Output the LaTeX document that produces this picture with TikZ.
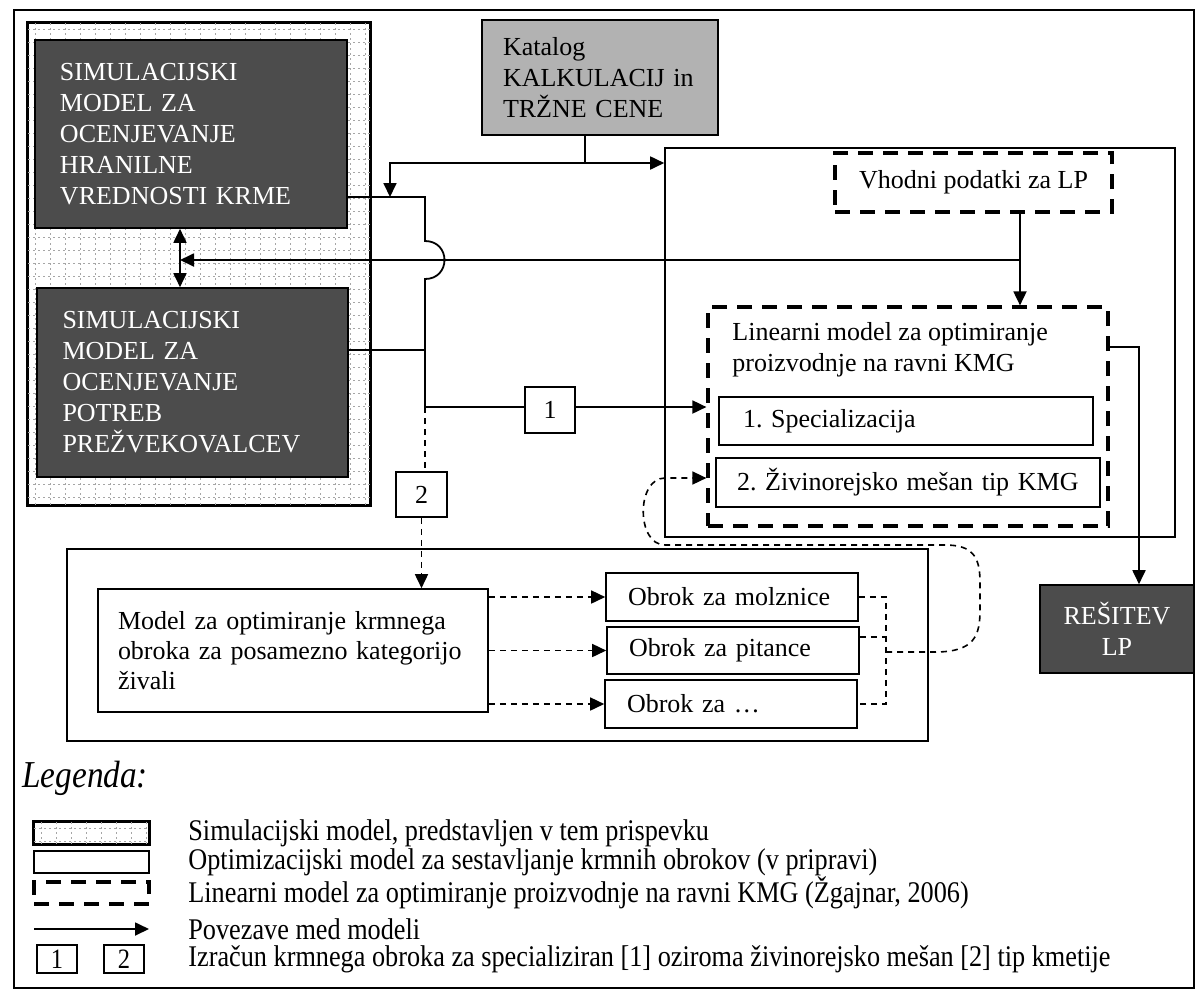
\documentclass[tikz,border=0pt]{standalone}
\usepackage{fontspec}
\setmainfont{Liberation Serif}
\newfontfamily\legfont[FakeStretch=0.875]{Liberation Serif}
\usetikzlibrary{arrows.meta,calc}
\newcommand\dgmfont{\fontsize{13}{15.5}\selectfont\frenchspacing}
\newcommand\dgmhatch[4]{%
  \begin{scope}
    \clip (#1,#2) rectangle (#3,#4);
    \foreach \xx in {0,15,...,480}
      \draw[black!35, line width=0.35pt, dash pattern=on 1pt off 1.5pt] ({#1+7+\xx},#2) -- ({#1+7+\xx},#4);
    \foreach \yy in {0,13,...,500}
      \draw[black!35, line width=0.35pt, dash pattern=on 1pt off 1.5pt] (#1,{#2+6+\yy}) -- (#3,{#2+6+\yy});
  \end{scope}}
\begin{document}
\frenchspacing
\begin{tikzpicture}[x=0.5pt,y=-0.5pt,
  box/.style={draw, line width=0.8pt, inner sep=0pt, font=\dgmfont, fill=white},
  darkbox/.style={box, fill=black!70, text=white, align=left},
  dbox/.style={draw, line width=1.6pt, dash pattern=on 7.5pt off 5pt, inner sep=0pt, font=\dgmfont, fill=white},
  con/.style={line width=0.9pt},
  dcon/.style={line width=0.8pt, dash pattern=on 3pt off 2.5pt},
  arr/.style={-{Triangle[length=7pt,width=6.5pt]}},
  legtext/.style={anchor=west, inner sep=0pt, font=\legfont\fontsize{15}{16}\selectfont\frenchspacing}]
\useasboundingbox (0,0) rectangle (1196,998);
\fill[white] (0,0) rectangle (1196,998);
% outer frame
\draw[line width=0.8pt] (14,10) rectangle (1194,988);

% hatched simulation area
\node[box, minimum width=171pt, minimum height=241pt] (hatch) at (199,264) {};
\dgmhatch{28}{23}{370}{505}
\draw[line width=0.8pt] (hatch.north west) rectangle (hatch.south east);

\node[darkbox, minimum width=156pt, minimum height=94pt, text width=131pt] (sim1) at (191,134)
  {SIMULACIJSKI\\MODEL ZA\\OCENJEVANJE\\HRANILNE\\VREDNOSTI KRME};
\node[darkbox, minimum width=155.5pt, minimum height=94.5pt, text width=130pt] (sim2) at (192.5,382.5)
  {SIMULACIJSKI\\MODEL ZA\\OCENJEVANJE\\POTREB\\PREŽVEKOVALCEV};

% catalogue
\node[box, fill=black!30, minimum width=118pt, minimum height=57.5pt, text width=97pt, align=left] (kat) at (600,77.5)
  {Katalog\\KALKULACIJ in\\TRŽNE CENE};

% right LP area
\node[box, minimum width=255pt, minimum height=194.5pt] (rbox) at (920,342.5) {};
\node[dbox, minimum width=138.5pt, minimum height=29.5pt] (vh) at (973.5,182.5) {Vhodni podatki za LP};
\node[dbox, minimum width=200pt, minimum height=109.5pt] (lin) at (908,416.5) {};
\node[anchor=north west, align=left, inner sep=0pt, font=\dgmfont] (lintxt) at (732,322)
  {Linearni model za optimiranje\\proizvodnje na ravni KMG};
\node[box, minimum height=24pt, text width=163pt, inner xsep=12pt, align=left] (spec) at (906,421) {1. Specializacija};
\node[box, minimum height=24.5pt, text width=171pt, inner xsep=10.5pt, align=left] (ziv) at (908,482.5) {2. Živinorejsko mešan tip KMG};

\node[darkbox, align=center, minimum width=77pt, minimum height=44pt] (res) at (1117,629) {REŠITEV\\LP};

% numbered boxes
\node[box, minimum width=25pt, minimum height=23pt] (b1) at (550,410) {1};
\node[box, minimum width=25.5pt, minimum height=22.5pt] (b2) at (421.5,494.5) {2};

% ration optimisation area
\node[box, minimum width=430.5pt, minimum height=96pt] (lbox) at (497.5,645) {};
\node[box, text width=175pt, inner xsep=10pt, minimum height=61.5pt, align=left, font=\fontsize{13}{15}\selectfont] (mod) at (293,650.5)
  {Model za optimiranje krmnega\\obroka za posamezno kategorijo\\živali};
\node[box, text width=104pt, inner xsep=11pt, minimum height=24pt, align=left] (ob1) at (732,597) {Obrok za molznice};
\node[box, text width=104pt, inner xsep=11pt, minimum height=23.5pt, align=left] (ob2) at (733,650.5) {Obrok za pitance};
\node[box, text width=104pt, inner xsep=11pt, minimum height=24pt, align=left] (ob3) at (731,704) {Obrok za …};

% ---- connectors ----
\coordinate (j1) at (585,163);
\coordinate (j2) at (390,197);
\draw[con] (kat.south -| j1) -- (j1);
\draw[con,arr] (j1) -- (j1 -| rbox.west);
\draw[con,arr] (j1) -| (j2);

\coordinate (a1) at (425,197);
\coordinate (hop1) at (425,241);
\coordinate (hop2) at (425,279);
\coordinate (a2) at (425,407);
\coordinate (a3) at (425,350);
\draw[con] (sim1.east |- a1) -- (a1) -- (hop1) .. controls (451,241) and (451,279) .. (hop2) -- (a2) -- (b1.west |- a2);
\draw[con] (sim2.east |- a3) -- (a3);
\draw[con,arr] (b1.east |- a2) -- (lin.west |- a2);

\coordinate (v1) at (1020,212);
\coordinate (v2) at (1020,260);
\coordinate (dbl) at (180,260);
\draw[con,arr] (vh.south -| v1) -- (lin.north -| v1);
\draw[con,arr] (v2) -- (dbl);
\draw[con,{Triangle[length=7pt,width=6.5pt]}-{Triangle[length=7pt,width=6.5pt]}] (sim1.south -| dbl) -- (sim2.north -| dbl);

\coordinate (r1) at (1139,347);
\draw[con,arr] (lin.east |- r1) -- (r1) -- (r1 |- res.north);

\draw[dcon] (a2) -- (a2 |- b2.north);
\draw[dcon,arr] (b2.south) -- (b2.south |- mod.north);
\foreach \o in {ob1,ob2,ob3}
  \draw[dcon,arr] (mod.east |- \o.west) -- (\o.west);

\coordinate (k) at (886,652);
\coordinate (k2) at (886,637);
\coordinate (lp) at (665,478);
\draw[dcon] (ob1.east) -- (ob1.east -| k) -- (ob3.east -| k) -- (ob3.east);
\draw[dcon] (ob2.east |- k2) -- (k2);
\draw[dcon,arr] (k) -- (935,652) .. controls (975,652) and (980,635) .. (980,610) -- (980,582)
  .. controls (980,556) and (972,545) .. (945,545) -- (665,545)
  .. controls (636,545) and (636,478) .. (lp) -- (lin.west |- lp);

% ---- legend ----
\node[anchor=west, inner sep=0pt, font=\legfont\itshape\fontsize{19}{22}\selectfont] (leg) at (22,778) {Legenda:};

\node[box, minimum width=57.5pt, minimum height=11pt] (li1) at (91.5,833) {};
\dgmhatch{34}{822}{149}{844}
\draw[line width=0.8pt] (li1.north west) rectangle (li1.south east);
\node[box, minimum width=57.5pt, minimum height=11pt] (li2) at (91.5,862) {};
\node[dbox, minimum width=57.5pt, minimum height=11pt] (li3) at (91.5,893) {};
\coordinate (la1) at (34,929);
\coordinate (la2) at (149,929);
\draw[con,arr] (la1) -- (la2);
\node[box, minimum width=20pt, minimum height=14pt, font=\legfont\fontsize{14}{15}\selectfont] (lb1) at (57,959) {1};
\node[box, minimum width=20pt, minimum height=14pt, font=\legfont\fontsize{14}{15}\selectfont] (lb2) at (124,959) {2};

\node[legtext] (lt1) at (188,833) {Simulacijski model, predstavljen v tem prispevku};
\node[legtext] (lt2) at (188,862) {Optimizacijski model za sestavljanje krmnih obrokov (v pripravi)};
\node[legtext] (lt3) at (188,893) {Linearni model za optimiranje proizvodnje na ravni KMG (Žgajnar, 2006)};
\node[legtext] (lt4) at (188,929) {Povezave med modeli};
\node[legtext] (lt5) at (188,959) {Izračun krmnega obroka za specializiran [1] oziroma živinorejsko mešan [2] tip kmetije};
\end{tikzpicture}
\end{document}
